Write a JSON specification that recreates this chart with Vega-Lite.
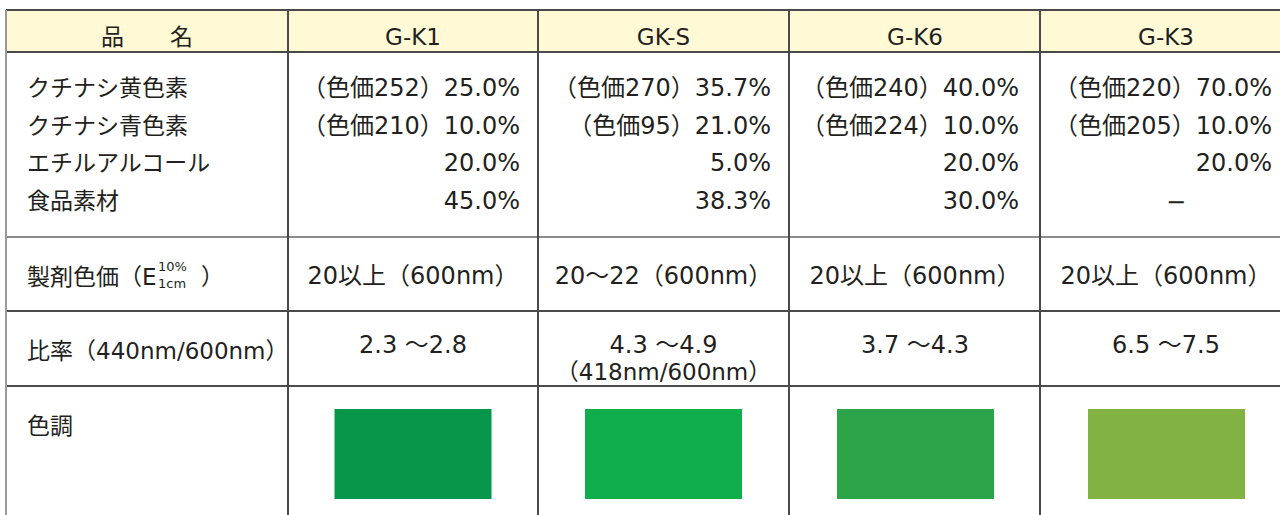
{
  "$schema": "https://vega.github.io/schema/vega-lite/v6.json",
  "width": 1280,
  "height": 515,
  "padding": 0,
  "autosize": {"type": "none"},
  "background": "#ffffff",
  "config": {
    "view": {"stroke": null},
    "text": {"font": "DejaVu Sans, Noto Sans CJK JP", "fontSize": 23, "color": "#231f20"}
  },
  "datasets": {
    "table": [
      {"row": 0, "col": 0, "text": "品　　名"},
      {"row": 0, "col": 1, "text": "G-K1"},
      {"row": 0, "col": 2, "text": "GK-S"},
      {"row": 0, "col": 3, "text": "G-K6"},
      {"row": 0, "col": 4, "text": "G-K3"},
      {"row": 1, "col": 0, "text": "クチナシ黄色素\nクチナシ青色素\nエチルアルコール\n食品素材"},
      {"row": 1, "col": 1, "text": "（色価252）25.0%\n（色価210）10.0%\n20.0%\n45.0%"},
      {"row": 1, "col": 2, "text": "（色価270）35.7%\n（色価95）21.0%\n5.0%\n38.3%"},
      {"row": 1, "col": 3, "text": "（色価240）40.0%\n（色価224）10.0%\n20.0%\n30.0%"},
      {"row": 1, "col": 4, "text": "（色価220）70.0%\n（色価205）10.0%\n20.0%", "dash": "−"},
      {"row": 2, "col": 0, "text": "製剤色価（E", "sup": "10%", "sub": "1cm", "close": "）"},
      {"row": 2, "col": 1, "text": "20以上（600nm）"},
      {"row": 2, "col": 2, "text": "20～22（600nm）"},
      {"row": 2, "col": 3, "text": "20以上（600nm）"},
      {"row": 2, "col": 4, "text": "20以上（600nm）"},
      {"row": 3, "col": 0, "text": "比率（440nm/600nm）"},
      {"row": 3, "col": 1, "text": "2.3 ～2.8"},
      {"row": 3, "col": 2, "text": "4.3 ～4.9", "note": "（418nm/600nm）"},
      {"row": 3, "col": 3, "text": "3.7 ～4.3"},
      {"row": 3, "col": 4, "text": "6.5 ～7.5"},
      {"row": 4, "col": 0, "text": "色調"},
      {"row": 4, "col": 1, "tone": "G-K1"},
      {"row": 4, "col": 2, "tone": "GK-S"},
      {"row": 4, "col": 3, "tone": "G-K6"},
      {"row": 4, "col": 4, "tone": "G-K3"}
    ],
    "rowEdges": [{"edge": 0}, {"edge": 1}, {"edge": 2}, {"edge": 3}, {"edge": 4}],
    "colEdges": [{"edge": 0}, {"edge": 1}, {"edge": 2}, {"edge": 3}, {"edge": 4}],
    "band": [{"part": "header"}]
  },
  "resolve": {"scale": {"x": "independent", "y": "independent", "color": "independent"}},
  "layer": [
    {
      "data": {"name": "band"},
      "mark": {"type": "rect", "color": "#fff9d6"},
      "encoding": {
        "x": {"datum": 0, "type": "quantitative", "axis": null, "scale": {"type": "linear", "zero": false, "nice": false, "domain": [0, 1, 2, 3, 4, 5], "range": [6, 288, 538, 789, 1040, 1291]}},
        "x2": {"datum": 5},
        "y": {"datum": 0, "type": "quantitative", "axis": null, "scale": {"type": "linear", "zero": false, "nice": false, "domain": [0, 1, 2, 3, 4, 5], "range": [10, 52, 237, 311, 386, 530]}},
        "y2": {"datum": 1}
      }
    },
    {
      "data": {"name": "rowEdges"},
      "mark": {"type": "rule", "strokeWidth": 2},
      "encoding": {
        "y": {"field": "edge", "type": "quantitative", "axis": null, "scale": {"type": "linear", "zero": false, "nice": false, "domain": [0, 1, 2, 3, 4, 5], "range": [10, 52, 237, 311, 386, 530]}},
        "x": {"datum": 0, "type": "quantitative", "axis": null, "scale": {"type": "linear", "zero": false, "nice": false, "domain": [0, 1, 2, 3, 4, 5], "range": [6, 288, 538, 789, 1040, 1291]}},
        "x2": {"datum": 5},
        "color": {"condition": {"test": "datum.edge === 2", "value": "#8a8a8a"}, "value": "#4a4a4a"}
      }
    },
    {
      "data": {"name": "colEdges"},
      "mark": {"type": "rule", "strokeWidth": 2},
      "encoding": {
        "x": {"field": "edge", "type": "quantitative", "axis": null, "scale": {"type": "linear", "zero": false, "nice": false, "domain": [0, 1, 2, 3, 4, 5], "range": [6, 288, 538, 789, 1040, 1291]}},
        "y": {"datum": 0, "type": "quantitative", "axis": null, "scale": {"type": "linear", "zero": false, "nice": false, "domain": [0, 1, 2, 3, 4, 5], "range": [10, 52, 237, 311, 386, 530]}},
        "y2": {"datum": 5},
        "color": {"condition": {"test": "datum.edge === 0", "value": "#9a9a9a"}, "value": "#4a4a4a"}
      }
    },
    {
      "data": {"name": "table"},
      "transform": [{"filter": "datum.row === 4 && datum.col > 0"}],
      "mark": {"type": "bar", "orient": "vertical", "width": 157},
      "encoding": {
        "x": {"field": "col", "type": "quantitative", "axis": null, "scale": {"type": "linear", "zero": false, "nice": false, "padding": 0, "domain": [0, 1, 2, 3, 4], "range": [147, 413, 663.5, 915.5, 1166.5]}},
        "y": {"datum": 4, "type": "quantitative", "axis": null, "scale": {"type": "linear", "zero": false, "nice": false, "domain": [4, 5], "range": [409, 499]}},
        "y2": {"datum": 5},
        "color": {"field": "tone", "type": "nominal", "legend": null, "scale": {"domain": ["G-K1", "GK-S", "G-K6", "G-K3"], "range": ["#07964a", "#0fae4b", "#2ba44a", "#82b241"]}}
      }
    },
    {
      "data": {"name": "table"},
      "transform": [{"filter": "datum.row === 0"}],
      "mark": {"type": "text", "align": "center", "baseline": "top"},
      "encoding": {
        "x": {"field": "col", "type": "quantitative", "axis": null, "scale": {"type": "linear", "zero": false, "nice": false, "domain": [0, 1, 2, 3, 4], "range": [147, 413, 663.5, 915, 1166]}},
        "y": {"field": "row", "type": "quantitative", "axis": null, "scale": {"type": "linear", "zero": false, "nice": false, "domain": [0, 1], "range": [27, 78]}},
        "text": {"field": "text", "type": "nominal"}
      }
    },
    {
      "data": {"name": "table"},
      "transform": [{"filter": "(datum.row === 2 || datum.row === 3) && datum.col > 0"}],
      "mark": {"type": "text", "align": "center", "baseline": "top", "fontSize": 24},
      "encoding": {
        "x": {"field": "col", "type": "quantitative", "axis": null, "scale": {"type": "linear", "zero": false, "nice": false, "domain": [0, 1, 2, 3, 4], "range": [147, 413, 663.5, 915, 1166]}},
        "y": {"field": "row", "type": "quantitative", "axis": null, "scale": {"type": "linear", "zero": false, "nice": false, "domain": [2, 3], "range": [265, 334]}},
        "text": {"field": "text", "type": "nominal"}
      }
    },
    {
      "data": {"name": "table"},
      "transform": [{"filter": "datum.row === 3 && isValid(datum.note)"}],
      "mark": {"type": "text", "align": "center", "baseline": "top", "fontSize": 23, "dy": 28},
      "encoding": {
        "x": {"field": "col", "type": "quantitative", "axis": null, "scale": {"type": "linear", "zero": false, "nice": false, "domain": [0, 1, 2, 3, 4], "range": [147, 413, 663.5, 915, 1166]}},
        "y": {"field": "row", "type": "quantitative", "axis": null, "scale": {"type": "linear", "zero": false, "nice": false, "domain": [2, 3], "range": [265, 334]}},
        "text": {"field": "note", "type": "nominal"}
      }
    },
    {
      "data": {"name": "table"},
      "transform": [{"filter": "datum.row === 1 && datum.col > 0"}],
      "mark": {"type": "text", "align": "right", "baseline": "top", "lineBreak": "\n", "lineHeight": 37.5, "fontSize": 24},
      "encoding": {
        "x": {"field": "col", "type": "quantitative", "axis": null, "scale": {"type": "linear", "zero": false, "nice": false, "domain": [1, 2, 3, 4], "range": [520, 771, 1019, 1272]}},
        "y": {"field": "row", "type": "quantitative", "axis": null, "scale": {"type": "linear", "zero": false, "nice": false, "domain": [0, 1], "range": [28, 77]}},
        "text": {"field": "text", "type": "nominal"}
      }
    },
    {
      "data": {"name": "table"},
      "transform": [{"filter": "datum.row === 1 && isValid(datum.dash)"}],
      "mark": {"type": "text", "align": "center", "baseline": "top", "fontSize": 24, "dx": 10, "dy": 114},
      "encoding": {
        "x": {"field": "col", "type": "quantitative", "axis": null, "scale": {"type": "linear", "zero": false, "nice": false, "domain": [0, 1, 2, 3, 4], "range": [147, 413, 663.5, 915, 1166]}},
        "y": {"field": "row", "type": "quantitative", "axis": null, "scale": {"type": "linear", "zero": false, "nice": false, "domain": [0, 1], "range": [28, 77]}},
        "text": {"field": "dash", "type": "nominal"}
      }
    },
    {
      "data": {"name": "table"},
      "transform": [{"filter": "datum.col === 0 && datum.row > 0"}],
      "mark": {"type": "text", "align": "left", "baseline": "top", "lineBreak": "\n", "lineHeight": 37.5, "dx": 21},
      "encoding": {
        "x": {"field": "col", "type": "quantitative", "axis": null, "scale": {"type": "linear", "zero": false, "nice": false, "domain": [0, 1], "range": [6, 288]}},
        "y": {"field": "row", "type": "quantitative", "axis": null, "scale": {"type": "linear", "zero": false, "nice": false, "domain": [1, 2, 3, 4], "range": [78, 267, 341, 416]}},
        "text": {"field": "text", "type": "nominal"}
      }
    },
    {
      "data": {"name": "table"},
      "transform": [{"filter": "datum.col === 0 && datum.row === 2"}],
      "mark": {"type": "text", "align": "left", "baseline": "middle", "fontSize": 13, "dx": 152, "dy": 30},
      "encoding": {
        "x": {"field": "col", "type": "quantitative", "axis": null, "scale": {"type": "linear", "zero": false, "nice": false, "domain": [0, 1], "range": [6, 288]}},
        "y": {"field": "row", "type": "quantitative", "axis": null, "scale": {"type": "linear", "zero": false, "nice": false, "domain": [2, 3], "range": [237, 311]}},
        "text": {"field": "sup", "type": "nominal"}
      }
    },
    {
      "data": {"name": "table"},
      "transform": [{"filter": "datum.col === 0 && datum.row === 2"}],
      "mark": {"type": "text", "align": "left", "baseline": "middle", "fontSize": 13, "dx": 152, "dy": 47},
      "encoding": {
        "x": {"field": "col", "type": "quantitative", "axis": null, "scale": {"type": "linear", "zero": false, "nice": false, "domain": [0, 1], "range": [6, 288]}},
        "y": {"field": "row", "type": "quantitative", "axis": null, "scale": {"type": "linear", "zero": false, "nice": false, "domain": [2, 3], "range": [237, 311]}},
        "text": {"field": "sub", "type": "nominal"}
      }
    },
    {
      "data": {"name": "table"},
      "transform": [{"filter": "datum.col === 0 && datum.row === 2"}],
      "mark": {"type": "text", "align": "left", "baseline": "top", "dx": 195, "dy": 30},
      "encoding": {
        "x": {"field": "col", "type": "quantitative", "axis": null, "scale": {"type": "linear", "zero": false, "nice": false, "domain": [0, 1], "range": [6, 288]}},
        "y": {"field": "row", "type": "quantitative", "axis": null, "scale": {"type": "linear", "zero": false, "nice": false, "domain": [2, 3], "range": [237, 311]}},
        "text": {"field": "close", "type": "nominal"}
      }
    }
  ]
}
